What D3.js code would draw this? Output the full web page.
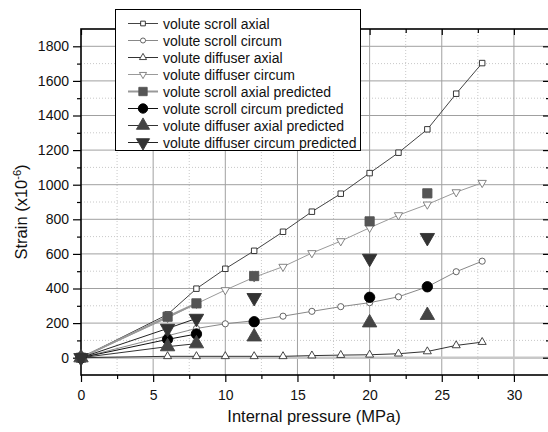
<!DOCTYPE html>
<html><head><meta charset="utf-8">
<script src="https://cdn.jsdelivr.net/npm/d3@7"></script>
<style>body{margin:0;background:#fff}</style>
</head><body><svg id="c" width="548" height="432" font-family="Liberation Sans, Arial, sans-serif"></svg>
<script>
const pressure = [0, 6, 8, 10, 12, 14, 16, 18, 20, 22, 24, 26, 27.8];
const scrollAxial    = [0, 250, 399, 514, 618, 728, 844, 948, 1067, 1185, 1320, 1526, 1703];
const scrollCircum   = [0, 127, 169, 196, 214, 240, 268, 295, 318, 352, 410, 497, 558];
const diffuserAxial  = [0, 8, 8, 8, 8, 8, 12, 15, 17, 23, 36, 71, 90];
const diffuserCircum = [0, 230, 312, 391, 465, 526, 605, 674, 751, 824, 886, 957, 1011];

const predPressure = [0, 6, 8, 12, 20, 24];
const scrollAxialPred    = [0, 237, 314, 472, 788, 950];
const scrollCircumPred   = [0, 106, 137, 208, 349, 410];
const diffuserAxialPred  = [0, 64, 81, 121, 202, 245];
const diffuserCircumPred = [0, 169, 227, 347, 574, 694];

const xTicks = [0, 5, 10, 15, 20, 25, 30];
const yTicks = [0, 200, 400, 600, 800, 1000, 1200, 1400, 1600, 1800];
const seriesNames = ["volute scroll axial","volute scroll circum","volute diffuser axial","volute diffuser circum",
  "volute scroll axial predicted","volute scroll circum predicted","volute diffuser axial predicted","volute diffuser circum predicted"];

const FONT = "Liberation Sans, Arial, sans-serif";
const svg = d3.select("#c");
const L = 81, R = 550, T = 29, B = 375;
const x = d3.scaleLinear().domain([0, 32.5]).range([L, R]);
const y = d3.scaleLinear().domain([-100, 1900]).range([B, T]);

const xMinor = d3.range(2.5, 32.5, 5);
const yMinor = d3.range(100, 1900, 200);
const g = svg.append("g");
g.selectAll(".xm").data(xMinor).enter().append("line")
  .attr("x1", d => x(d)).attr("x2", d => x(d)).attr("y1", T).attr("y2", B)
  .attr("stroke", "#c8c8c8").attr("stroke-dasharray", "1,2");
g.selectAll(".ym").data(yMinor).enter().append("line")
  .attr("x1", L).attr("x2", R).attr("y1", d => y(d)).attr("y2", d => y(d))
  .attr("stroke", "#c8c8c8").attr("stroke-dasharray", "1,2");
g.selectAll(".xM").data(xTicks.slice(1)).enter().append("line")
  .attr("x1", d => x(d)).attr("x2", d => x(d)).attr("y1", T).attr("y2", B)
  .attr("stroke", "#a0a0a0");
g.selectAll(".yM").data(yTicks.slice(1)).enter().append("line")
  .attr("x1", L).attr("x2", R).attr("y1", d => y(d)).attr("y2", d => y(d))
  .attr("stroke", "#a0a0a0");
g.append("line").attr("x1", L).attr("x2", R).attr("y1", y(0)).attr("y2", y(0))
  .attr("stroke", "#c8c8c8").attr("stroke-width", 2.5);

function styleText(s){ s.selectAll("text").attr("font-size", 14).attr("fill", "#111").attr("font-family", FONT); }
svg.append("g").attr("transform", `translate(0,${B})`)
  .call(d3.axisBottom(x).tickValues(xTicks).tickSize(7).tickPadding(8).tickFormat(d3.format("d")))
  .call(s => { s.select(".domain").remove(); styleText(s); });
svg.append("g").attr("transform", `translate(0,${B})`)
  .call(d3.axisBottom(x).tickValues(xMinor).tickSize(4).tickFormat(""))
  .call(s => s.select(".domain").remove());
svg.append("g").attr("transform", `translate(${L},0)`)
  .call(d3.axisLeft(y).tickValues(yTicks).tickSize(8).tickPadding(4).tickFormat(d3.format("d")))
  .call(s => { s.select(".domain").remove(); styleText(s); });
svg.append("g").attr("transform", `translate(${L},0)`)
  .call(d3.axisLeft(y).tickValues(yMinor).tickSize(4).tickFormat(""))
  .call(s => s.select(".domain").remove());
svg.append("g").attr("transform", `translate(0,${T})`)
  .call(d3.axisBottom(x).tickValues(xTicks).tickSize(6).tickFormat(""))
  .call(s => s.select(".domain").remove());
svg.append("g").attr("transform", `translate(0,${T})`)
  .call(d3.axisBottom(x).tickValues(xMinor).tickSize(4).tickFormat(""))
  .call(s => s.select(".domain").remove());
svg.append("g").attr("transform", `translate(${R},0)`)
  .call(d3.axisLeft(y).tickValues(yTicks).tickSize(7).tickFormat(""))
  .call(s => s.select(".domain").remove());
svg.append("g").attr("transform", `translate(${R},0)`)
  .call(d3.axisLeft(y).tickValues(yMinor).tickSize(4).tickFormat(""))
  .call(s => s.select(".domain").remove());
svg.selectAll(".tick line").attr("stroke", "#000").attr("stroke-width", 1.2);
svg.append("rect").attr("x", L).attr("y", T).attr("width", R - L).attr("height", B - T)
  .attr("fill", "none").attr("stroke", "#000").attr("stroke-width", 1.6);

const sym = { square: d3.symbolSquare, circle: d3.symbolCircle, tri: d3.symbolTriangle, triDown: d3.symbolTriangle };
function marker(sel, type, size, fill, stroke){
  const s = sel.append("path").attr("d", d3.symbol(sym[type], size)());
  if (type === "triDown") s.attr("transform", "rotate(180)");
  s.attr("fill", fill).attr("stroke", stroke).attr("stroke-width", 0.9);
  return s;
}

const series = [
  {vals: scrollAxial, xs: pressure, line: "#444", lw: 1, m: "square", ms: 30, lms: 22, fill: "#fff", st: "#222"},
  {vals: scrollCircum, xs: pressure, line: "#888", lw: 1, m: "circle", ms: 30, lms: 20, fill: "#fff", st: "#555"},
  {vals: diffuserAxial, xs: pressure, line: "#333", lw: 1, m: "tri", ms: 28, lms: 22, fill: "#fff", st: "#333"},
  {vals: diffuserCircum, xs: pressure, line: "#9a9a9a", lw: 1, m: "triDown", ms: 30, lms: 22, fill: "#fff", st: "#777"},
  {vals: scrollAxialPred, xs: predPressure, line: "#999", lw: 2, m: "square", ms: 85, lms: 70, fill: "#555", st: "#555", nLine: 3},
  {vals: scrollCircumPred, xs: predPressure, line: "#111", lw: 1, m: "circle", ms: 85, lms: 70, fill: "#000", st: "#000", nLine: 3},
  {vals: diffuserAxialPred, xs: predPressure, line: "#333", lw: 1, m: "tri", ms: 90, lms: 75, fill: "#444", st: "#444", nLine: 3},
  {vals: diffuserCircumPred, xs: predPressure, line: "#222", lw: 1, m: "triDown", ms: 90, lms: 75, fill: "#333", st: "#333", nLine: 3}
];
const lineGen = d3.line().x(d => x(d[0])).y(d => y(d[1]));
const plot = svg.append("g");
series.forEach(s => {
  const pts = s.xs.map((v, i) => [v, s.vals[i]]);
  const lp = s.nLine ? pts.slice(0, s.nLine) : pts;
  plot.append("path").attr("d", lineGen(lp)).attr("fill", "none").attr("stroke", s.line).attr("stroke-width", s.lw);
});
series.forEach(s => {
  s.xs.forEach((v, i) => {
    const gg = plot.append("g").attr("transform", `translate(${x(v)},${y(s.vals[i])})`);
    marker(gg, s.m, s.ms, s.fill, s.st);
  });
});

const lg = svg.append("g");
lg.append("rect").attr("x", 115.5).attr("y", 9.5).attr("width", 245).attr("height", 141)
  .attr("fill", "#fff").attr("stroke", "#000").attr("stroke-width", 1);
series.forEach((s, i) => {
  const yy = 23.5 + i * 17;
  lg.append("line").attr("x1", 128).attr("x2", 158).attr("y1", yy).attr("y2", yy)
    .attr("stroke", s.line).attr("stroke-width", s.lw);
  const gg = lg.append("g").attr("transform", `translate(143,${yy})`);
  marker(gg, s.m, s.lms, s.fill, s.st);
  lg.append("text").attr("x", 163).attr("y", yy + 5).attr("font-size", 14).attr("fill", "#111")
    .attr("font-family", FONT).text(seriesNames[i]);
});

svg.append("text").attr("x", 314).attr("y", 422).attr("text-anchor", "middle").attr("font-family", FONT)
  .attr("font-size", 16.5).attr("fill", "#111").text("Internal pressure (MPa)");
const yt = svg.append("text").attr("transform", "translate(27,212) rotate(-90)").attr("text-anchor", "middle")
  .attr("font-family", FONT).attr("font-size", 16.5).attr("fill", "#111");
yt.append("tspan").text("Strain (x10");
yt.append("tspan").attr("dy", -6).attr("font-size", 11).text("-6");
yt.append("tspan").attr("dy", 6).text(")");
</script></body></html>
